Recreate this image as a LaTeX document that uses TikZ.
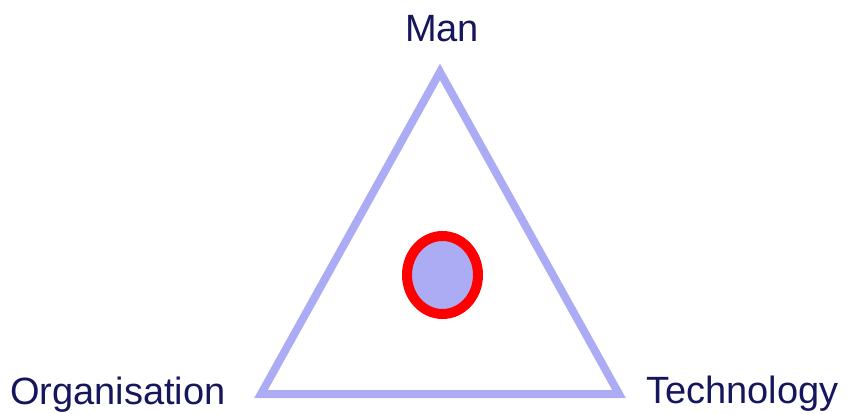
\documentclass[tikz,border=0pt]{standalone}
\usepackage{fontspec}
\setmainfont{Liberation Sans}
\usepackage{xcolor}
\usetikzlibrary{shapes.geometric,positioning}
\definecolor{lavender}{RGB}{172,172,245}
\definecolor{navy}{RGB}{22,22,92}
\tikzset{
    corner/.style={font=\fontsize{38}{40}\selectfont, text=navy, inner sep=0pt},
    side/.style={draw=lavender, line width=8pt, line join=miter},
    core/.style={ellipse, draw=red, line width=10pt, fill=lavender, minimum width=71pt, minimum height=78pt, inner sep=0pt},
}
\begin{document}
\begin{tikzpicture}[x=1pt, y=-1pt]
    \useasboundingbox (0,0) rectangle (850,414);
    \coordinate (top) at (440,72);
    \coordinate (left) at (261,394);
    \coordinate (right) at (619,394);
    \node[corner, anchor=base] (man) at (442,42) {Man};
    \node[corner, anchor=base west] (org) at (10,404) {Organisation};
    \node[corner, anchor=base west] (tech) at (646,403) {Technology};

    \draw[side] (top) -- (right) -- (left) -- cycle;
    \node[core] (c) at (442.5,275) {};
\end{tikzpicture}
\end{document}
